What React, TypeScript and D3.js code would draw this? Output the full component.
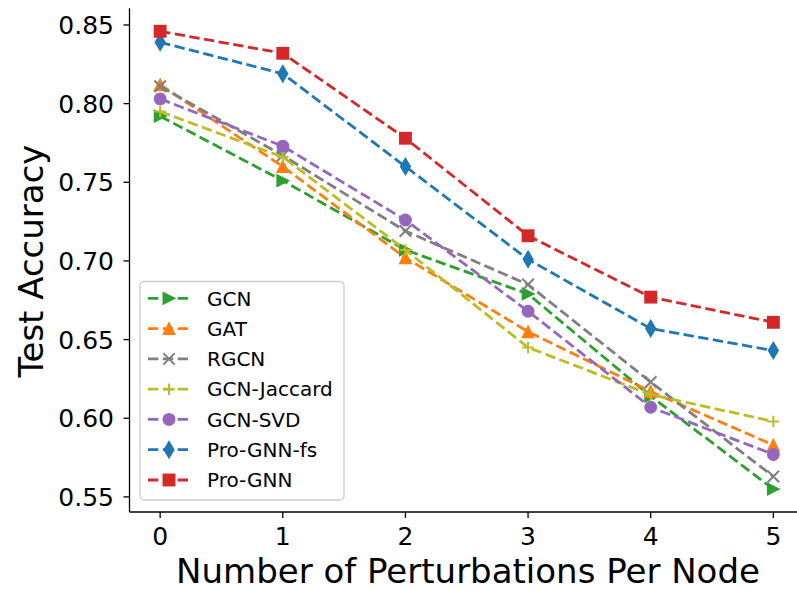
import React from 'react';
import * as d3 from 'd3';

// values
const perturbations = [0, 1, 2, 3, 4, 5];
const gcn = [0.792, 0.751, 0.707, 0.679, 0.614, 0.555];
const gat = [0.812, 0.760, 0.702, 0.655, 0.617, 0.583];
const rgcn = [0.811, 0.767, 0.719, 0.685, 0.623, 0.563];
const gcnJaccard = [0.795, 0.766, 0.707, 0.645, 0.615, 0.598];
const gcnSvd = [0.803, 0.773, 0.726, 0.668, 0.607, 0.577];
const proGnnFs = [0.839, 0.819, 0.760, 0.701, 0.657, 0.643];
const proGnn = [0.846, 0.832, 0.778, 0.716, 0.677, 0.661];

const seriesNames = ['GCN', 'GAT', 'RGCN', 'GCN-Jaccard', 'GCN-SVD', 'Pro-GNN-fs', 'Pro-GNN'];
const seriesValues = [gcn, gat, rgcn, gcnJaccard, gcnSvd, proGnnFs, proGnn];
const seriesColors = ['#2ca02c', '#ff7f0e', '#7f7f7f', '#bcbd22', '#9467bd', '#1f77b4', '#d62728'];
const seriesMarkers = ['tri-right', 'tri-up', 'x', 'plus', 'circle', 'thin-diamond', 'square'];

const xTicks = [0, 1, 2, 3, 4, 5];
const yTicks = [0.55, 0.6, 0.65, 0.7, 0.75, 0.8, 0.85];

const W = 797;
const H = 589;
const FONT = 'DejaVu Sans, sans-serif';
const MS = 11.5; // marker size
const LW = 2.8;
const DASH = `${3.7 * LW} ${1.6 * LW}`;

const Marker = ({ kind, x, y, color }: { kind: string; x: number; y: number; color: string }) => {
  const h = MS / 2;
  const common = { fill: color, stroke: color, strokeWidth: 1.4, strokeLinejoin: 'miter' as const };
  switch (kind) {
    case 'circle':
      return <circle cx={x} cy={y} r={h} {...common} />;
    case 'square':
      return <rect x={x - h} y={y - h} width={MS} height={MS} {...common} />;
    case 'tri-up':
      return <path d={`M${x},${y - h}L${x + h},${y + h}L${x - h},${y + h}Z`} {...common} />;
    case 'tri-right':
      return <path d={`M${x + h},${y}L${x - h},${y - h}L${x - h},${y + h}Z`} {...common} />;
    case 'thin-diamond': {
      const dh = MS * 0.707;
      const dw = dh * 0.6;
      return <path d={`M${x},${y - dh}L${x + dw},${y}L${x},${y + dh}L${x - dw},${y}Z`} {...common} />;
    }
    case 'x':
      return (
        <path d={`M${x - h},${y - h}L${x + h},${y + h}M${x - h},${y + h}L${x + h},${y - h}`}
          fill="none" stroke={color} strokeWidth={2} />
      );
    case 'plus':
      return (
        <path d={`M${x - h},${y}L${x + h},${y}M${x},${y - h}L${x},${y + h}`}
          fill="none" stroke={color} strokeWidth={2} />
      );
    default:
      return null;
  }
};

export default function App() {
  const x = d3.scaleLinear().domain([-0.25, 5.25]).range([129.5, 804]);
  const y = d3.scaleLinear().domain([0.5404, 0.8606]).range([512, 8.3]);

  const line = d3.line<number>()
    .x((_, i) => x(perturbations[i]))
    .y(d => y(d));

  const axisLeft = x.range()[0];
  const axisBottom = y.range()[0];

  // legend layout
  const legX = 140;
  const legY = 281.5;
  const legW = 204;
  const legH = 218.5;
  const rowY0 = 298.3;
  const rowStep = 30.28;

  return (
    <div style={{ position: 'absolute', left: 0, top: 0 }}>
      <svg width={W} height={H} style={{ display: 'block', background: '#fff' }} fontFamily={FONT}>
        {/* series */}
        {seriesValues.map((vals, s) => (
          <g key={seriesNames[s]}>
            <path d={line(vals) || ''} fill="none" stroke={seriesColors[s]} strokeWidth={LW}
              strokeDasharray={DASH} />
            {vals.map((v, i) => (
              <Marker key={i} kind={seriesMarkers[s]} x={x(perturbations[i])} y={y(v)} color={seriesColors[s]} />
            ))}
          </g>
        ))}

        {/* spines */}
        <line x1={axisLeft} x2={axisLeft} y1={y.range()[1]} y2={axisBottom} stroke="#000" strokeWidth={1.3} />
        <line x1={axisLeft} x2={W} y1={axisBottom} y2={axisBottom} stroke="#000" strokeWidth={1.3} />

        {/* y ticks */}
        {yTicks.map(t => (
          <g key={t}>
            <line x1={axisLeft - 6} x2={axisLeft} y1={y(t)} y2={y(t)} stroke="#000" strokeWidth={1.3} />
            <text x={114} y={y(t) + 9} textAnchor="end" fontSize={25} fill="#000">{t.toFixed(2)}</text>
          </g>
        ))}

        {/* x ticks */}
        {xTicks.map(t => (
          <g key={t}>
            <line x1={x(t)} x2={x(t)} y1={axisBottom} y2={axisBottom + 6} stroke="#000" strokeWidth={1.3} />
            <text x={x(t)} y={545} textAnchor="middle" fontSize={25} fill="#000">{t}</text>
          </g>
        ))}

        {/* axis labels */}
        <text x={468} y={583} textAnchor="middle" fontSize={34} fill="#000">Number of Perturbations Per Node</text>
        <text transform="translate(43,261) rotate(-90)" textAnchor="middle" fontSize={34} fill="#000">Test Accuracy</text>

        {/* legend */}
        <rect x={legX} y={legY} width={legW} height={legH} rx={4} fill="#fff" fillOpacity={0.8}
          stroke="#cccccc" strokeWidth={1.3} />
        {seriesNames.map((name, s) => {
          const cy = rowY0 + s * rowStep;
          return (
            <g key={name}>
              <line x1={148} x2={190} y1={cy} y2={cy} stroke={seriesColors[s]} strokeWidth={LW}
                strokeDasharray={DASH} />
              <Marker kind={seriesMarkers[s]} x={169} y={cy} color={seriesColors[s]} />
              <text x={207} y={cy + 7.3} fontSize={20} fill="#000">{name}</text>
            </g>
          );
        })}
      </svg>
    </div>
  );
}
